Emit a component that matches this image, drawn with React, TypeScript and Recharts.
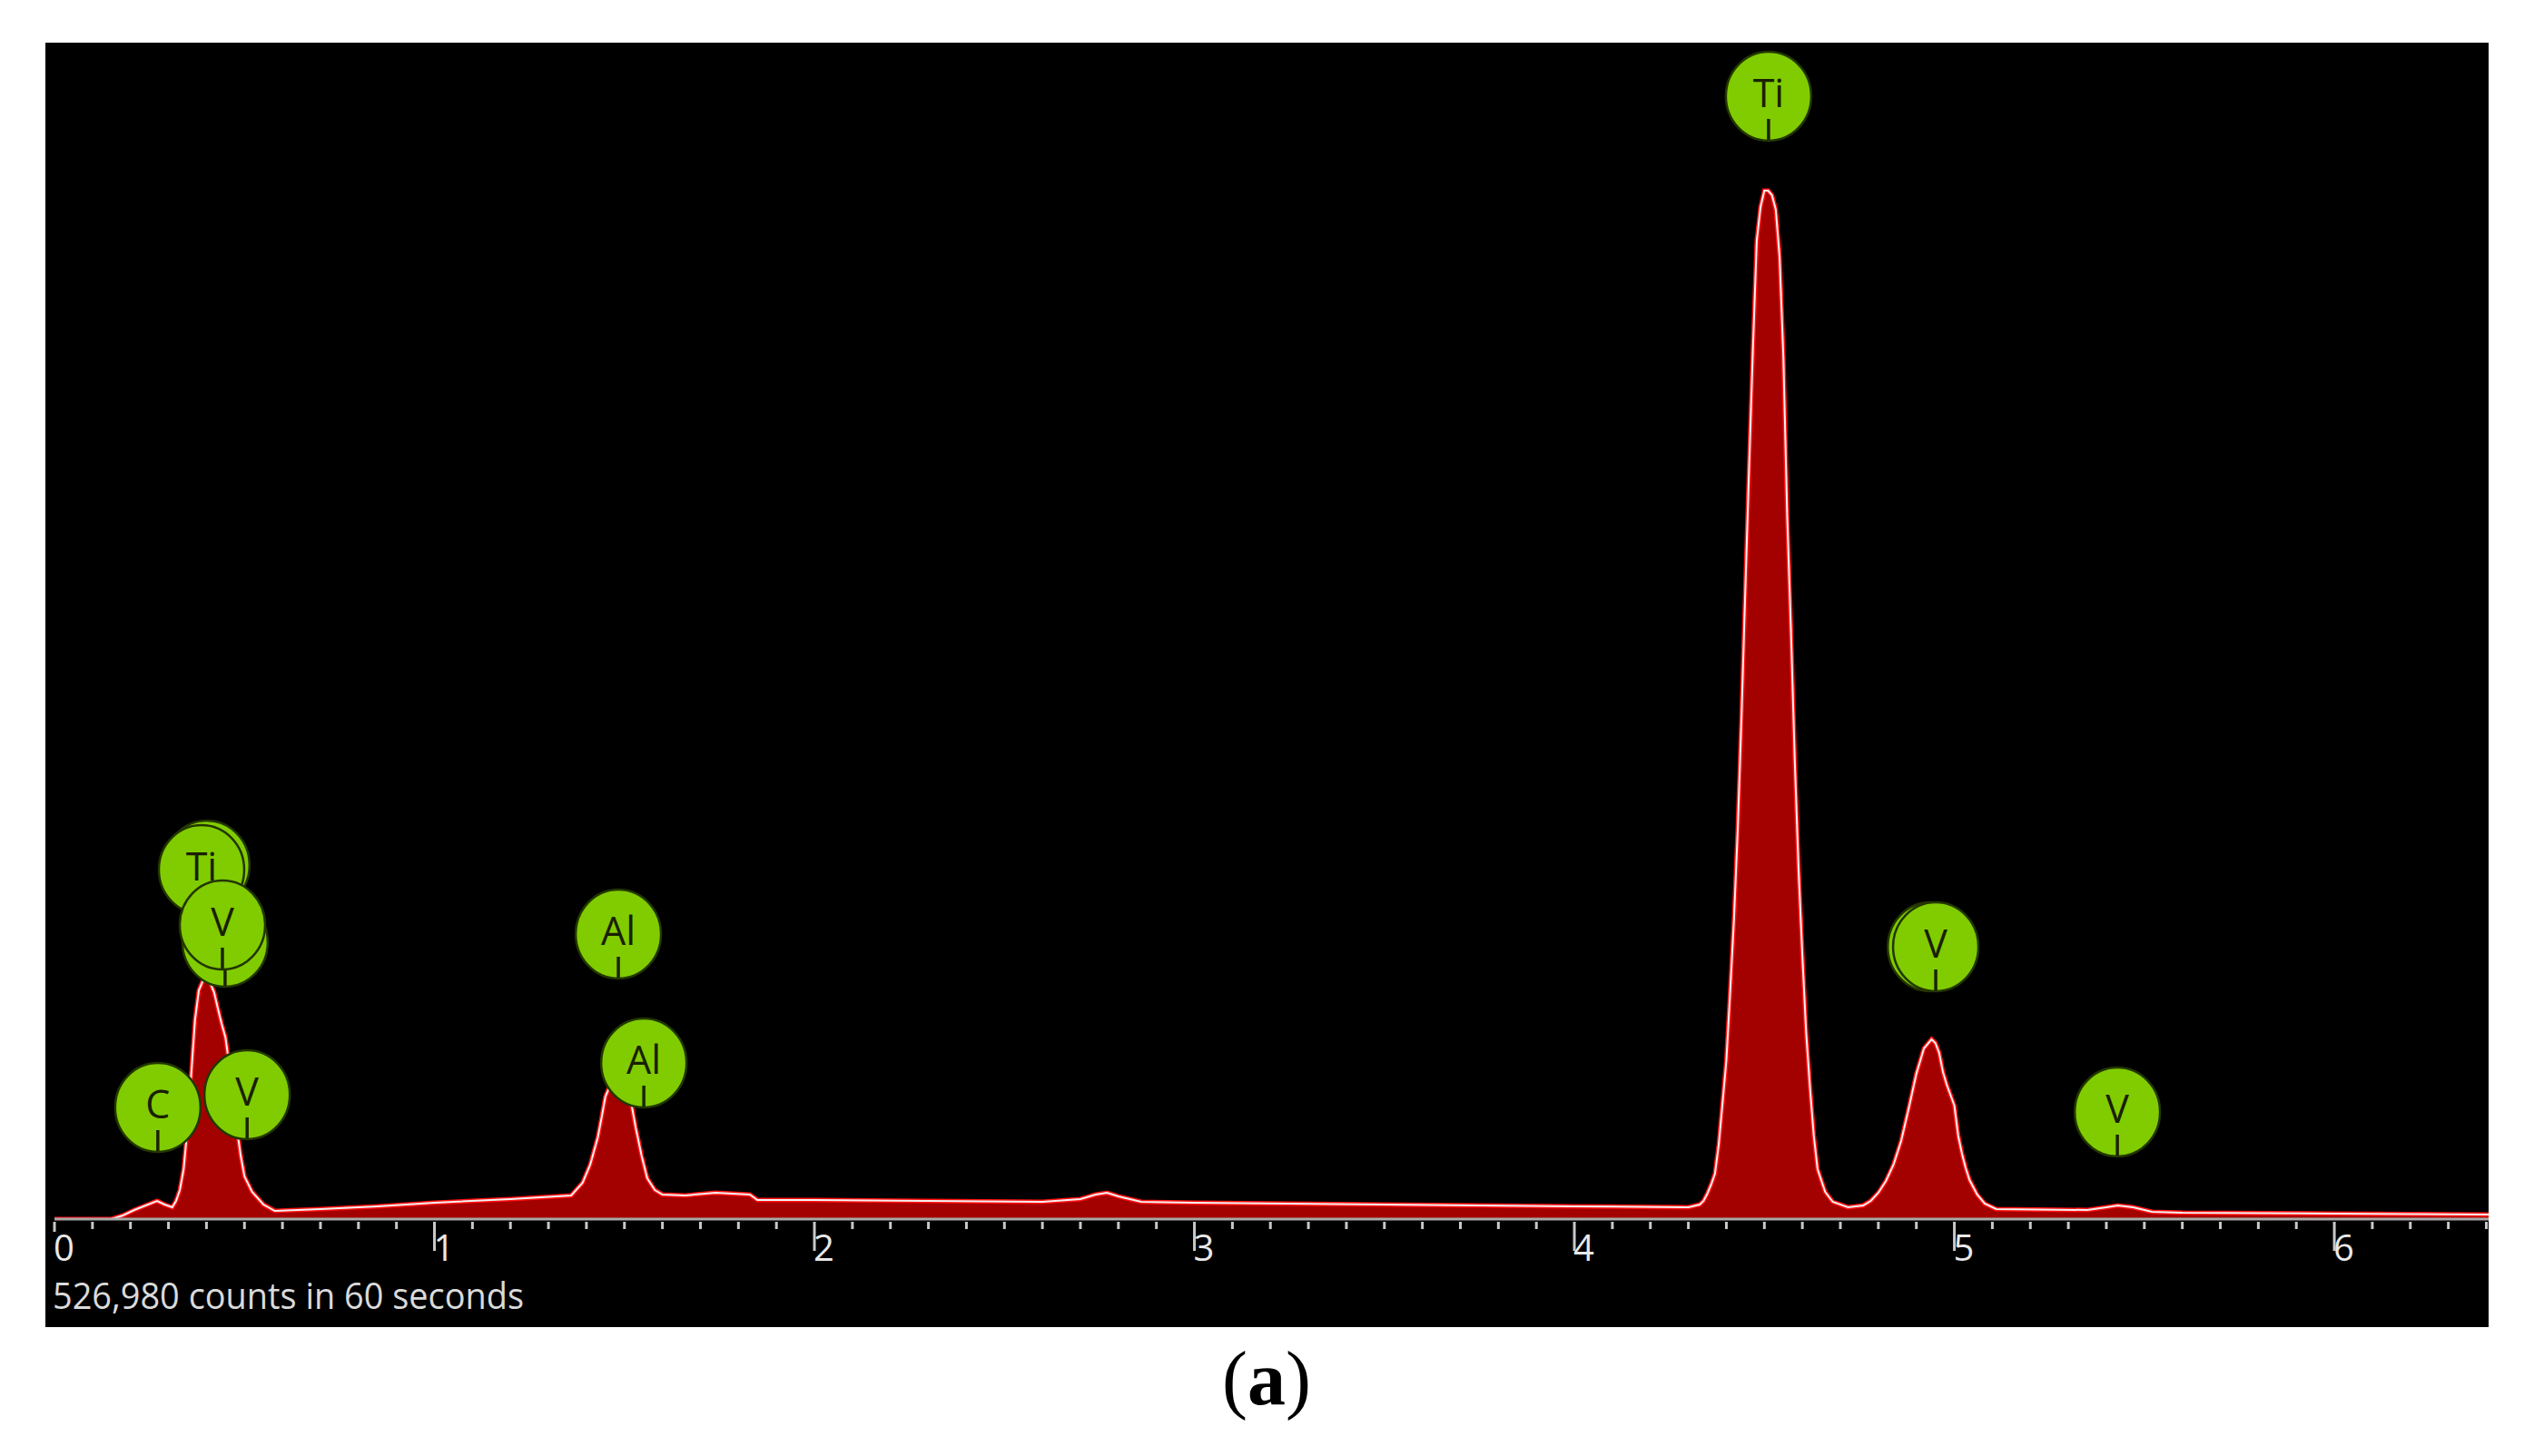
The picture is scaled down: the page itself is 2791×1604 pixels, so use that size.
import React from "react";
import { ComposedChart, Area, Line, Scatter, XAxis, YAxis } from "recharts";

// Energy (keV) of each channel sample
const energyKeV = [
  0, 0.15, 0.18, 0.21, 0.24, 0.27, 0.29, 0.31, 0.32, 0.33,
  0.34, 0.35, 0.36, 0.37, 0.38, 0.39, 0.4, 0.41, 0.42, 0.43,
  0.44, 0.45, 0.46, 0.47, 0.48, 0.49, 0.5, 0.52, 0.55, 0.58,
  0.7, 0.85, 1.0, 1.2, 1.36, 1.39, 1.41, 1.43, 1.44, 1.45,
  1.46, 1.48, 1.5, 1.51, 1.52, 1.53, 1.545, 1.56, 1.58, 1.6,
  1.66, 1.74, 1.83, 1.85, 2.0, 2.3, 2.6, 2.7, 2.74, 2.77,
  2.8, 2.86, 3.0, 3.5, 4.0, 4.3, 4.33, 4.34, 4.35, 4.36,
  4.37, 4.38, 4.39, 4.4, 4.41, 4.42, 4.43, 4.44, 4.45, 4.46,
  4.47, 4.48, 4.49, 4.5, 4.51, 4.52, 4.53, 4.54, 4.55, 4.56,
  4.57, 4.58, 4.59, 4.6, 4.61, 4.62, 4.63, 4.64, 4.66, 4.68,
  4.72, 4.76, 4.78, 4.8, 4.82, 4.84, 4.86, 4.88, 4.9, 4.92,
  4.94, 4.95, 4.96, 4.97, 4.98, 5.0, 5.01, 5.02, 5.03, 5.04,
  5.06, 5.08, 5.11, 5.35, 5.4, 5.43, 5.47, 5.52, 5.6, 6.0,
  6.406,
];

// Counts per channel
const counts = [
  0, 0, 80, 200, 300, 400, 320, 260, 400, 640,
  1100, 2000, 3200, 4400, 5040, 5240, 5260, 5200, 5000, 4640,
  4300, 4000, 3400, 2700, 2000, 1400, 940, 600, 320, 180,
  220, 280, 360, 440, 520, 800, 1200, 1800, 2240, 2700,
  2900, 2960, 2860, 2700, 2460, 2000, 1400, 900, 640, 540,
  520, 580, 540, 420, 420, 400, 380, 440, 540, 580,
  500, 380, 360, 320, 280, 260, 320, 400, 560, 760,
  1000, 1640, 2560, 3500, 5000, 6600, 8600, 11100, 13900, 16600,
  19200, 21560, 22300, 22660, 22660, 22560, 22240, 21200, 19000, 15500,
  12960, 10100, 7700, 5800, 4100, 2900, 1840, 1100, 600, 380,
  260, 300, 400, 580, 840, 1200, 1720, 2440, 3200, 3760,
  3960, 3880, 3660, 3240, 2960, 2500, 1840, 1440, 1120, 860,
  540, 340, 220, 200, 260, 300, 260, 160, 140, 120,
  100,
];

// Element labels (drawn in this order, back to front); hidden-label circles sit behind others
const markerLabels = ["Ti", "Ti", "V", "V", "C", "V", "Al", "Al", "Ti", "V", "V", "V"];
const markerEnergy = [0.401, 0.387, 0.449, 0.442, 0.272, 0.507, 1.484, 1.551, 4.511, 4.937, 4.951, 5.429];
const markerCounts = [7800, 7700, 6100, 6480, 2460, 2740, 6280, 3440, 24740, 6000, 6000, 2360];
const markerLabelVisible = [false, true, false, true, true, true, true, true, true, false, true, true];

const majorTickLabels = ["0", "1", "2", "3", "4", "5", "6"];
const tickStep = 0.1;
const tickCount = 65;
const axisMax = 6.406;
const countsMax = 26000;
const footerText = "526,980 counts in 60 seconds";
const captionLetter = "a";

const spectrum = energyKeV.map((e, i) => ({ e, c: counts[i] }));
const markers = markerEnergy.map((e, i) => ({
  e,
  c: markerCounts[i],
  label: markerLabels[i],
  showLabel: markerLabelVisible[i],
}));
const tickValues = Array.from({ length: tickCount }, (_, i) => Math.round(i * tickStep * 100) / 100);

const AxisTick = (props: any) => {
  const { x, y, payload } = props;
  const v = payload.value as number;
  const isMajor = Math.abs(v - Math.round(v)) < 1e-6;
  const len = isMajor ? (Math.round(v) === 0 ? 14 : 35) : 11;
  return (
    <g>
      <line x1={x} x2={x} y1={y + 3} y2={y + len} stroke="#c8c8c8" strokeWidth={3} />
      {isMajor && (
        <text x={x - 1} y={y + 46} fill="#e8e8e8" fontSize={40} fontFamily="Open Sans" textAnchor="start">
          {majorTickLabels[Math.round(v)]}
        </text>
      )}
    </g>
  );
};

const MarkerShape = (props: any) => {
  const { cx, cy, payload } = props;
  if (cx == null || cy == null) return null;
  return (
    <g>
      <ellipse cx={cx} cy={cy} rx={47} ry={49} fill="#80cc00" stroke="#233600" strokeWidth={2.5} />
      {payload.showLabel && (
        <text x={cx} y={cy + 12} textAnchor="middle" fontSize={43} fontFamily="Open Sans" fill="#1a2000">
          {payload.label}
        </text>
      )}
      <line x1={cx} x2={cx} y1={cy + 25} y2={cy + 48} stroke="#1a2400" strokeWidth={3.5} />
    </g>
  );
};

export default function App() {
  return (
    <div style={{ position: "absolute", left: 0, top: 0, width: 2791, height: 1604, background: "#ffffff", overflow: "hidden" }}>
      <div style={{ position: "absolute", left: 50, top: 47, width: 2691, height: 1415, background: "#000000" }} />
      <div style={{ position: "absolute", left: 0, top: 0 }}>
        <ComposedChart width={2791} height={1604} data={spectrum} margin={{ top: 43, right: 50, left: 60, bottom: 221 }}>
          <XAxis
            dataKey="e"
            type="number"
            domain={[0, axisMax]}
            allowDataOverflow
            ticks={tickValues}
            interval={0}
            tick={<AxisTick />}
            tickLine={false}
            tickSize={0}
            tickMargin={0}
            height={40}
            axisLine={{ stroke: "#a8a8a8", strokeWidth: 3 }}
          />
          <YAxis hide type="number" domain={[0, countsMax]} allowDataOverflow />
          <Area
            type="linear"
            dataKey="c"
            fill="#a30000"
            fillOpacity={1}
            stroke="#ff1010"
            strokeWidth={5}
            isAnimationActive={false}
          />
          <Line type="linear" dataKey="c" stroke="#f2f2f2" strokeWidth={2} dot={false} isAnimationActive={false} />
          <Scatter data={markers} dataKey="c" shape={<MarkerShape />} isAnimationActive={false} />
        </ComposedChart>
      </div>
      <svg width={2791} height={1604} style={{ position: "absolute", left: 0, top: 0, pointerEvents: "none" }}>
        <text x={58} y={1442} fontFamily="Open Sans" fontSize={40} fill="#dadada" textLength={519} lengthAdjust="spacingAndGlyphs">
          {footerText}
        </text>
        <text x={1395} y={1547} textAnchor="middle" fontFamily="Liberation Serif" fontSize={84} fill="#000000">
          (<tspan fontWeight="bold">{captionLetter}</tspan>)
        </text>
      </svg>
    </div>
  );
}
